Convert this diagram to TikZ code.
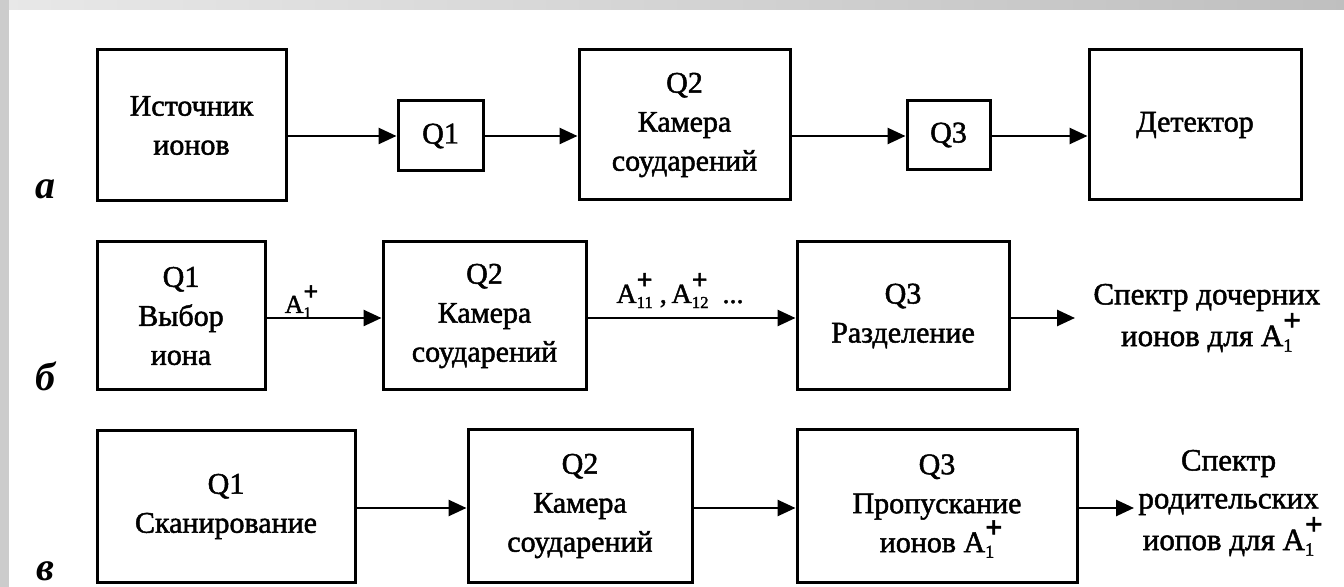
\documentclass[tikz,border=0pt]{standalone}
\usepackage{fontspec}
\setmainfont{Liberation Serif}
\newfontfamily\heavy{Liberation Serif}[FakeBold=1.6]
\usetikzlibrary{arrows.meta}
\newcommand{\Ap}[1]{A\makebox[0pt][l]{\raisebox{0.5em}{\scalebox{1.0}{\textbf{+}}}}\raisebox{-0.18em}{\scalebox{0.6}{#1}}}
\begin{document}
\begin{tikzpicture}[x=0.5pt,y=-0.5pt,
  box/.style={draw, line width=1.5pt, align=center, inner sep=0pt, font=\heavy\fontsize{15}{19.5}\selectfont},
  arr/.style={line width=1.3pt, -{Triangle[length=9pt,width=8pt]}},
  txt/.style={align=center, inner ysep=0pt, font=\heavy\fontsize{15.5}{19}\selectfont},
  tag/.style={font=\fontsize{20}{20}\selectfont\bfseries\itshape, inner sep=0pt},
  lbl/.style={inner sep=0pt, font=\heavy}]
\useasboundingbox (0,0) rectangle (1344,587);
\shade[left color=gray!18, right color=gray!50] (0,0) rectangle (1344,10);
\fill[gray!40] (0,0) rectangle (9,587);

% row a
\node[box, minimum width=94.5pt, minimum height=75.5pt] (a1) at (191.5,125.5) {Источник\\ионов};
\node[box, minimum width=42.5pt, minimum height=35pt] (a2) at (440.5,136) {Q1};
\node[box, minimum width=105.5pt, minimum height=75pt] (a3) at (684.5,125) {Q2\\Камера\\соударений};
\node[box, minimum width=41.5pt, minimum height=34.5pt] (a4) at (948.5,135) {Q3};
\node[box, minimum width=106pt, minimum height=75pt] (a5) at (1195,125) {Детектор};
\coordinate (ya) at (0,136);
\draw[arr] (a1.east |- ya) -- (a2.west |- ya);
\draw[arr] (a2.east |- ya) -- (a3.west |- ya);
\draw[arr] (a3.east |- ya) -- (a4.west |- ya);
\draw[arr] (a4.east |- ya) -- (a5.west |- ya);
\node[tag] (ta) at (45,189) {а};

% row b
\node[box, minimum width=84pt, minimum height=74pt] (b1) at (181,316) {Q1\\Выбор\\иона};
\node[box, minimum width=101.5pt, minimum height=74pt] (b2) at (484.5,316) {Q2\\Камера\\соударений};
\node[box, minimum width=106pt, minimum height=74pt] (b3) at (903,316) {Q3\\Разделение};
\node[txt, anchor=west, inner xsep=9pt] (b4) at (1075,318) {Спектр дочерних\\ионов для \Ap{1}};
\coordinate (yb) at (0,318);
\draw[arr] (b1.east |- yb) -- (b2.west |- yb);
\draw[arr] (b2.east |- yb) -- (b3.west |- yb);
\draw[arr] (b3.east |- yb) -- (b4.west |- yb);
\node[lbl, anchor=base] (l1) at (298,313) {\fontsize{13}{13}\selectfont\Ap{1}};
\node[lbl, anchor=base] (l2) at (680,303) {\fontsize{14}{14}\selectfont\Ap{11} ,\,\Ap{12} \ ...};
\node[tag] (tb) at (45,376) {б};

% row c
\node[box, minimum width=129pt, minimum height=75.5pt] (c1) at (226,506.5) {Q1\\Сканирование};
\node[box, minimum width=112pt, minimum height=76pt] (c2) at (580,506) {Q2\\Камера\\соударений};
\node[box, minimum width=140pt, minimum height=76pt] (c3) at (937,506) {Q3\\Пропускание\\ионов \Ap{1}};
\node[txt, anchor=west, inner xsep=2pt] (c4) at (1134,503) {Спектр\\родительских\\иопов для \Ap{1}};
\coordinate (yc) at (0,508);
\draw[arr] (c1.east |- yc) -- (c2.west |- yc);
\draw[arr] (c2.east |- yc) -- (c3.west |- yc);
\draw[arr] (c3.east |- yc) -- (c4.west |- yc);
\node[tag] (tc) at (45,571) {в};
\end{tikzpicture}
\end{document}
